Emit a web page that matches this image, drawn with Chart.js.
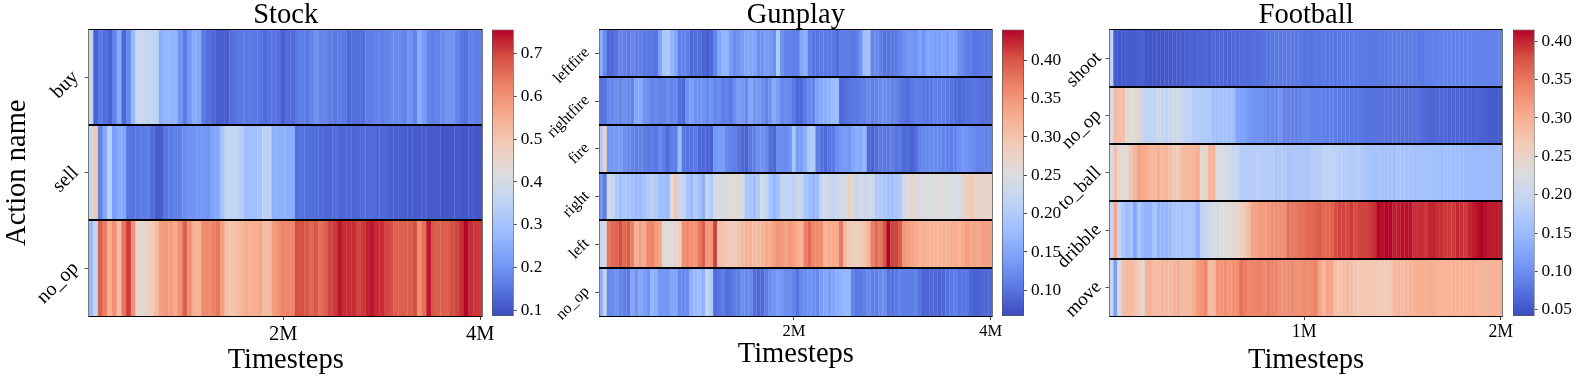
<!DOCTYPE html>
<html>
<head>
<meta charset="utf-8">
<title>Action heatmaps</title>
<script src="https://cdn.jsdelivr.net/npm/chart.js@4"></script>
<style>
  html, body { margin: 0; padding: 0; background: #fff; overflow: hidden; }
  #page { position: relative; width: 1577px; height: 380px; }
  canvas { position: absolute; top: 0; }
</style>
</head>
<body>
<div id="page"></div>
<script>
// Stock
const stockActions = ['buy', 'sell', 'no_op'];
const stockBuy = [
  .36,.12,.16,.14,.12,.17,.24,.13,.18,.28,
  .38,.38,.36,.36,.35,.25,.27,.27,.27,.2,
  .16,.21,.25,.24,.16,.14,.13,.115,.115,.115,
  .14,.15,.155,.16,.16,.155,.15,.135,.15,
  .15,.145,.115,.135,.135,.155,.165,.155,.175,.2,
  .175,.175,.165,.155,.165,.155,.13,.14,.14,.14,
  .165,.165,.175,.165,.175,.185,.185,.185,.175,.205,
  .17,.25,.215,.175,.165,.175,.185,.205,.205,.175,
  .155,.145,.175,.165,.165];
const stockSell = [
  .38,.5,.17,.24,.34,.22,.25,.24,.15,.15,
  .15,.16,.165,.14,.115,.115,.15,.16,.17,.17,
  .19,.2,.2,.21,.21,.2,.23,.24,.3,.36,
  .36,.36,.34,.29,.29,.29,.3,.35,.35,
  .26,.26,.26,.25,.25,.14,.145,.14,.14,.14,
  .135,.13,.13,.14,.13,.13,.13,.125,.13,.14,
  .135,.135,.13,.13,.125,.12,.12,.12,.115,.115,
  .115,.115,.115,.11,.11,.11,.105,.105,.105,.11,
  .105,.105,.11,.105,.105];
const stockNoOp = [
  .28,.36,.67,.63,.55,.6,.52,.64,.71,.6,
  .45,.44,.46,.49,.52,.58,.59,.58,.56,.6,
  .67,.6,.55,.54,.61,.61,.62,.64,.58,.51,
  .5,.51,.53,.55,.54,.55,.56,.52,.52,
  .585,.6,.62,.62,.62,.69,.69,.68,.66,.68,
  .65,.67,.7,.71,.74,.72,.72,.72,.7,.71,
  .73,.74,.72,.72,.7,.69,.67,.67,.67,.67,
  .69,.6,.65,.74,.68,.67,.67,.67,.69,.7,
  .72,.755,.72,.71,.71];
const stockTickIndex = [41, 83];
const stockTickLabels = ['2M', '4M'];
const stockScaleRange = [0.0876, 0.7555];
const stockBarTicks = [0.1, 0.2, 0.3, 0.4, 0.5, 0.6, 0.7];

// Gunplay
const gunActions = ['leftfire', 'rightfire', 'fire', 'right', 'left', 'no_op'];
const gunLeftfire = [
  .16,.12,.09,.09,.1,.115,.11,.105,.115,.11,
  .11,.105,.105,.105,.1,.145,.19,.2,.17,.15,
  .11,.115,.11,.09,.095,.095,.085,.08,.09,
  .115,.15,.17,.17,.14,.125,.13,.14,.15,.15,
  .145,.125,.13,.14,.135,.125,.2,.13,.115,.115,
  .11,.11,.15,.16,.11,.1,.1,.105,.105,.105,
  .105,.095,.11,.11,.11,.105,.11,.13,.18,.185,
  .115,.12,.11,.1,.1,.105,.105,.115,.125,
  .135,.135,.13,.145,.13,.15,.145,.14,.14,.15,
  .14,.15,.15,.125,.12,.11,.11,.1,.105,.105,.105,.105];
const gunRightfire = [
  .1,.1,.12,.12,.125,.115,.125,.12,.115,.15,
  .155,.13,.125,.115,.12,.115,.115,.125,.115,.12,
  .095,.09,.13,.14,.125,.13,.13,.12,.13,
  .12,.125,.11,.115,.105,.125,.14,.135,.12,.15,
  .13,.135,.125,.115,.13,.155,.14,.12,.125,.12,
  .105,.09,.09,.105,.12,.115,.145,.155,.16,.165,
  .175,.175,.09,.095,.1,.105,.105,.11,.11,.12,
  .11,.115,.12,.125,.12,.115,.115,.105,.1,
  .095,.105,.11,.11,.105,.105,.105,.11,.11,.11,
  .105,.1,.095,.09,.095,.1,.1,.105,.1,.095,.095,.095];
const gunFire = [
  .2,.28,.135,.135,.135,.14,.125,.12,.115,.11,
  .115,.11,.105,.11,.105,.12,.11,.095,.11,.11,
  .175,.105,.1,.1,.105,.09,.09,.09,.085,
  .135,.14,.14,.12,.115,.11,.1,.09,.085,.105,
  .11,.125,.13,.12,.095,.09,.125,.125,.12,.13,
  .19,.14,.14,.16,.2,.2,.11,.1,.09,.1,
  .105,.125,.135,.14,.135,.15,.16,.155,.17,.09,
  .085,.095,.105,.105,.105,.11,.1,.105,.09,
  .095,.085,.095,.115,.12,.12,.12,.12,.12,.115,
  .115,.11,.115,.125,.135,.13,.125,.12,.115,.115,.115,.115];
const gunRight = [
  .135,.11,.235,.23,.2,.18,.19,.185,.18,.175,
  .175,.185,.2,.21,.2,.18,.185,.175,.25,.3,
  .23,.225,.19,.175,.2,.185,.16,.215,.2,
  .24,.25,.25,.25,.255,.265,.26,.25,.19,.19,
  .18,.195,.245,.22,.19,.17,.185,.22,.22,.22,
  .21,.235,.22,.19,.18,.17,.175,.22,.24,.23,
  .22,.23,.24,.24,.28,.26,.22,.24,.23,.235,
  .235,.2,.2,.19,.185,.18,.19,.2,.24,
  .25,.275,.26,.245,.25,.25,.25,.255,.26,.25,
  .25,.25,.245,.245,.27,.28,.29,.28,.27,.27,.27,.27];
const gunLeft = [
  .23,.24,.375,.385,.39,.405,.385,.395,.37,.325,
  .34,.33,.36,.365,.345,.335,.26,.26,.255,.27,
  .28,.355,.36,.355,.35,.375,.395,.345,.35,
  .41,.3,.3,.29,.29,.285,.3,.31,.32,.32,
  .31,.31,.315,.33,.325,.34,.35,.345,.335,.345,
  .34,.33,.32,.37,.385,.365,.36,.36,.32,.33,
  .33,.33,.375,.31,.29,.285,.28,.29,.3,.32,
  .37,.385,.375,.4,.44,.41,.41,.395,.35,
  .34,.335,.33,.32,.325,.32,.32,.315,.32,.32,
  .32,.325,.33,.32,.33,.34,.33,.335,.33,.34,.34,.34];
const gunNoOp = [
  .16,.22,.12,.12,.13,.115,.11,.105,.15,.13,
  .15,.14,.13,.17,.16,.135,.135,.135,.15,.15,
  .12,.12,.12,.16,.175,.18,.165,.22,.2,
  .095,.1,.11,.095,.1,.11,.11,.125,.12,.12,
  .095,.09,.09,.11,.125,.13,.14,.135,.125,.125,
  .115,.1,.12,.125,.13,.125,.12,.14,.15,.14,
  .15,.16,.165,.17,.17,.115,.105,.105,.11,.12,
  .11,.11,.12,.125,.1,.1,.105,.115,.11,
  .11,.11,.115,.1,.085,.085,.09,.09,.085,.09,
  .1,.105,.11,.1,.105,.105,.09,.085,.085,.09,.09,.09];
const gunTickIndex = [49, 99];
const gunTickLabels = ['2M', '4M'];
const gunScaleRange = [0.0665, 0.4402];
const gunBarTicks = [0.10, 0.15, 0.20, 0.25, 0.30, 0.35, 0.40];

// Football
const footActions = ['shoot', 'no_op', 'to_ball', 'dribble', 'move'];
const footShoot = [
  .19,.055,.05,.055,.055,.055,.055,.06,.06,.05,
  .05,.05,.05,.05,.052,.052,.055,.055,.055,.06,
  .065,.06,.065,.063,.065,.06,.065,.063,.065,
  .063,.063,.067,.065,.07,.07,.07,.072,.072,.072,
  .075,.078,.08,.08,.08,.08,.08,.08,.08,.08,
  .076,.078,.076,.08,.078,.08,.078,.08,.076,.078,
  .08,.08,.082,.082,.08,.08,.08,.08,.08,
  .08,.08,.08,.082,.082,.082,.082,.082,.082,.082,
  .082,.082,.086,.086,.088,.088,.088,.09,.088,.09,
  .088,.09,.09,.092,.09,.09,.088,.09,.09,.09,.09,.09];
const footNoOp = [
  .22,.29,.28,.28,.24,.23,.24,.24,.2,.19,
  .19,.19,.21,.2,.19,.2,.21,.215,.2,.19,
  .19,.18,.18,.175,.175,.175,.16,.155,.16,
  .16,.155,.155,.125,.12,.12,.11,.105,.105,.105,
  .1,.095,.095,.095,.105,.09,.088,.09,.09,.09,
  .095,.098,.09,.092,.09,.088,.085,.088,.082,.082,
  .08,.08,.078,.078,.08,.076,.076,.075,.075,
  .074,.074,.074,.074,.074,.072,.072,.072,.072,.072,
  .074,.07,.066,.064,.064,.066,.066,.065,.062,.064,
  .064,.062,.062,.062,.06,.064,.06,.06,.056,.055,.055,.055];
const footToBall = [
  .22,.28,.235,.24,.24,.27,.29,.31,.305,.3,
  .29,.29,.3,.29,.295,.28,.27,.265,.285,.29,
  .29,.29,.3,.24,.245,.29,.295,.225,.22,
  .22,.21,.2,.2,.18,.18,.18,.18,.185,.18,
  .18,.18,.18,.17,.175,.175,.165,.165,.17,.17,
  .17,.165,.18,.18,.18,.19,.19,.19,.185,.18,
  .18,.18,.175,.175,.18,.17,.165,.165,.16,
  .165,.16,.16,.16,.155,.165,.16,.16,.16,.16,
  .16,.16,.16,.16,.16,.155,.155,.155,.155,.155,
  .155,.155,.15,.15,.15,.15,.15,.15,.15,.15,.15,.15];
const footDribble = [
  .2,.31,.19,.17,.15,.165,.125,.17,.15,.14,
  .14,.165,.14,.145,.145,.15,.165,.165,.165,.165,
  .17,.165,.14,.19,.2,.21,.22,.215,.23,
  .23,.235,.24,.24,.26,.27,.285,.31,.31,.32,
  .315,.325,.33,.33,.33,.33,.355,.35,.35,.355,
  .355,.36,.36,.365,.37,.36,.36,.365,.38,.385,
  .385,.38,.39,.38,.385,.385,.385,.39,.395,
  .415,.41,.415,.415,.405,.405,.41,.41,.41,.395,
  .395,.395,.39,.4,.4,.395,.395,.39,.39,.39,
  .4,.395,.39,.4,.405,.41,.415,.41,.405,.405,.405,.405];
const footMove = [
  .2,.115,.225,.28,.285,.285,.275,.26,.24,.295,
  .295,.285,.285,.29,.29,.285,.295,.3,.285,.29,
  .285,.3,.32,.325,.335,.285,.285,.325,.325,
  .33,.325,.33,.33,.355,.345,.335,.34,.34,.34,
  .335,.345,.34,.34,.33,.33,.33,.335,.33,.33,
  .335,.33,.335,.34,.31,.29,.31,.31,.28,.275,
  .28,.285,.28,.27,.265,.27,.27,.27,.27,
  .265,.265,.265,.27,.29,.29,.285,.29,.295,.295,
  .3,.3,.295,.3,.3,.295,.295,.295,.295,.3,
  .295,.295,.295,.295,.3,.29,.29,.29,.295,.295,.295,.295];
const footTickIndex = [49, 99];
const footTickLabels = ['1M', '2M'];
const footScaleRange = [0.0418, 0.4154];
const footBarTicks = [0.05, 0.10, 0.15, 0.20, 0.25, 0.30, 0.35, 0.40];

// coolwarm colormap, one stop every 0.1
const coolwarm = ['#3b4cc0', '#5a78e4', '#7b9ff9', '#9ebeff', '#c0d4f5', '#dddcdc',
                  '#f2cbb7', '#f7ac8e', '#ee8468', '#d65244', '#b40426'];

const serif = 'Liberation Serif';
const page = document.getElementById('page');

function hexToRgb(h) {
  return [1, 3, 5].map(i => parseInt(h.substr(i, 2), 16));
}

function colorFor(v, range) {
  let t = (v - range[0]) / (range[1] - range[0]);
  t = Math.min(1, Math.max(0, t)) * 10;
  const i = Math.min(9, Math.floor(t));
  const a = hexToRgb(coolwarm[i]), b = hexToRgb(coolwarm[i + 1]);
  const c = a.map((x, k) => Math.round(x + (b[k] - x) * (t - i)));
  return 'rgb(' + c.join(',') + ')';
}

function addCanvas(left, width) {
  const c = document.createElement('canvas');
  c.style.left = left + 'px';
  c.width = width;
  c.height = 380;
  c.style.width = width + 'px';
  c.style.height = '380px';
  page.appendChild(c);
  return c;
}

const plotTop = 29.5, plotBottom = 316;

function heatmap(p) {
  const canvas = addCanvas(p.canvasLeft, p.canvasWidth);
  const n = p.actions.length;
  const columns = p.rows[0].map((_, i) => i);
  new Chart(canvas, {
    type: 'bar',
    data: {
      labels: columns,
      datasets: p.rows.map((row, r) => ({
        label: p.actions[r],
        data: row.map(() => 1),
        backgroundColor: row.map(v => colorFor(v, p.range)),
        borderWidth: 0,
        barPercentage: 1.06,
        categoryPercentage: 1,
        yAxisID: 'y'
      }))
    },
    options: {
      responsive: false,
      animation: false,
      layout: { padding: { top: 1.5, right: p.canvasWidth - (p.plotRight - p.canvasLeft), bottom: 0, left: 0 } },
      plugins: {
        legend: { display: false },
        tooltip: { enabled: false },
        title: {
          display: true, text: p.title, color: '#000', fullSize: false,
          font: { family: serif, size: 28.5, weight: 'normal', lineHeight: 0.982 },
          padding: 0
        }
      },
      scales: {
        x: {
          stacked: true,
          afterFit: s => { s.height = 380 - plotBottom; },
          afterBuildTicks: s => { s.ticks = s.ticks.filter(t => p.tickIndex.includes(t.value)); },
          ticks: {
            autoSkip: false, maxRotation: 0, color: '#000', padding: p.xTickPad,
            font: { family: serif, size: p.xFont },
            callback: v => p.tickLabels[p.tickIndex.indexOf(v)]
          },
          grid: { offset: false, drawOnChartArea: false, tickLength: 4, tickColor: '#444' },
          border: { color: '#555', z: 1 },
          title: {
            display: true, text: 'Timesteps', color: '#000',
            font: { family: serif, size: 28.5 },
            padding: { top: 0, bottom: p.xTitlePad }
          }
        },
        y: {
          stacked: true, min: 0, max: n, reverse: true, position: 'left',
          afterFit: s => { s.width = p.plotLeft - p.canvasLeft; },
          afterBuildTicks: s => { s.ticks = p.actions.map((_, i) => ({ value: i + 0.5 })); },
          ticks: {
            autoSkip: false, minRotation: 45, maxRotation: 45, color: '#000',
            padding: p.yTickPad, labelOffset: -3,
            font: { family: serif, size: p.yFont },
            callback: (v, i) => p.actions[i]
          },
          grid: { drawOnChartArea: false, tickLength: 4, tickColor: '#555' },
          border: { color: '#777', z: 1 },
          title: {
            display: !!p.yTitle, text: p.yTitle, color: '#000',
            font: { family: serif, size: 28.5, lineHeight: 1 },
            padding: 3
          }
        },
        // separators between the rows, and the right spine
        rows: {
          type: 'linear', min: 0, max: n, reverse: true, position: 'right',
          afterFit: s => { s.width = 0; },
          ticks: { display: false, stepSize: 1 },
          grid: {
            z: 1, drawTicks: false, color: '#000',
            lineWidth: c => (c.tick.value === 0 || c.tick.value === n) ? 1 : 2
          },
          border: { color: '#777', z: 1 }
        }
      }
    }
  });
}

function colorbar(p) {
  const canvas = addCanvas(p.barLeft, 62);
  const barW = p.barRight - p.barLeft;
  new Chart(canvas, {
    type: 'bar',
    data: {
      labels: [p.title],
      datasets: [{
        data: [p.range],
        borderWidth: 1,
        borderColor: '#555',
        borderSkipped: false,
        barPercentage: 1,
        categoryPercentage: 1,
        backgroundColor: c => {
          const a = c.chart.chartArea;
          if (!a) return coolwarm[5];
          const g = c.chart.ctx.createLinearGradient(0, a.bottom, 0, a.top);
          coolwarm.forEach((col, i) => g.addColorStop(i / 10, col));
          return g;
        }
      }]
    },
    options: {
      responsive: false,
      animation: false,
      layout: { padding: { top: plotTop, bottom: 380 - plotBottom, left: 0, right: 0 } },
      plugins: { legend: { display: false }, tooltip: { enabled: false } },
      scales: {
        x: { display: false },
        y: {
          position: 'right', min: p.range[0], max: p.range[1],
          afterFit: s => { s.width = 62 - barW; },
          afterBuildTicks: s => { s.ticks = p.barTicks.map(v => ({ value: v })); },
          ticks: {
            autoSkip: false, color: '#000', padding: 4,
            font: { family: serif, size: 17.3 },
            callback: (v, i) => p.barTicks[i].toFixed(p.barDigits)
          },
          grid: { drawOnChartArea: false, tickLength: 3, tickColor: '#444' },
          border: { display: false }
        }
      }
    }
  });
}

const panels = [
  { title: 'Stock', actions: stockActions, rows: [stockBuy, stockSell, stockNoOp],
    tickIndex: stockTickIndex, tickLabels: stockTickLabels, range: stockScaleRange, barTicks: stockBarTicks,
    canvasLeft: 0, canvasWidth: 515, plotLeft: 88.7, plotRight: 482.7, barLeft: 492.3, barRight: 514,
    yTitle: 'Action name', xFont: 20.5, yFont: 20, yTickPad: 9, barDigits: 1, xTickPad: 2, xTitlePad: 2 },
  { title: 'Gunplay', actions: gunActions, rows: [gunLeftfire, gunRightfire, gunFire, gunRight, gunLeft, gunNoOp],
    tickIndex: gunTickIndex, tickLabels: gunTickLabels, range: gunScaleRange, barTicks: gunBarTicks,
    canvasLeft: 530, canvasWidth: 490, plotLeft: 599, plotRight: 992.7, barLeft: 1002.3, barRight: 1024.3,
    yTitle: '', xFont: 16.5, yFont: 16, yTickPad: 8, barDigits: 2, xTickPad: 2, xTitlePad: 8 },
  { title: 'Football', actions: footActions, rows: [footShoot, footNoOp, footToBall, footDribble, footMove],
    tickIndex: footTickIndex, tickLabels: footTickLabels, range: footScaleRange, barTicks: footBarTicks,
    canvasLeft: 1047, canvasWidth: 490, plotLeft: 1109.5, plotRight: 1502.7, barLeft: 1512.7, barRight: 1534.3,
    yTitle: '', xFont: 17.8, yFont: 19, yTickPad: 7, barDigits: 2, xTickPad: 2, xTitlePad: 2 }
];

panels.forEach(p => {
  heatmap(p);
  colorbar(p);
});
</script>
</body>
</html>
